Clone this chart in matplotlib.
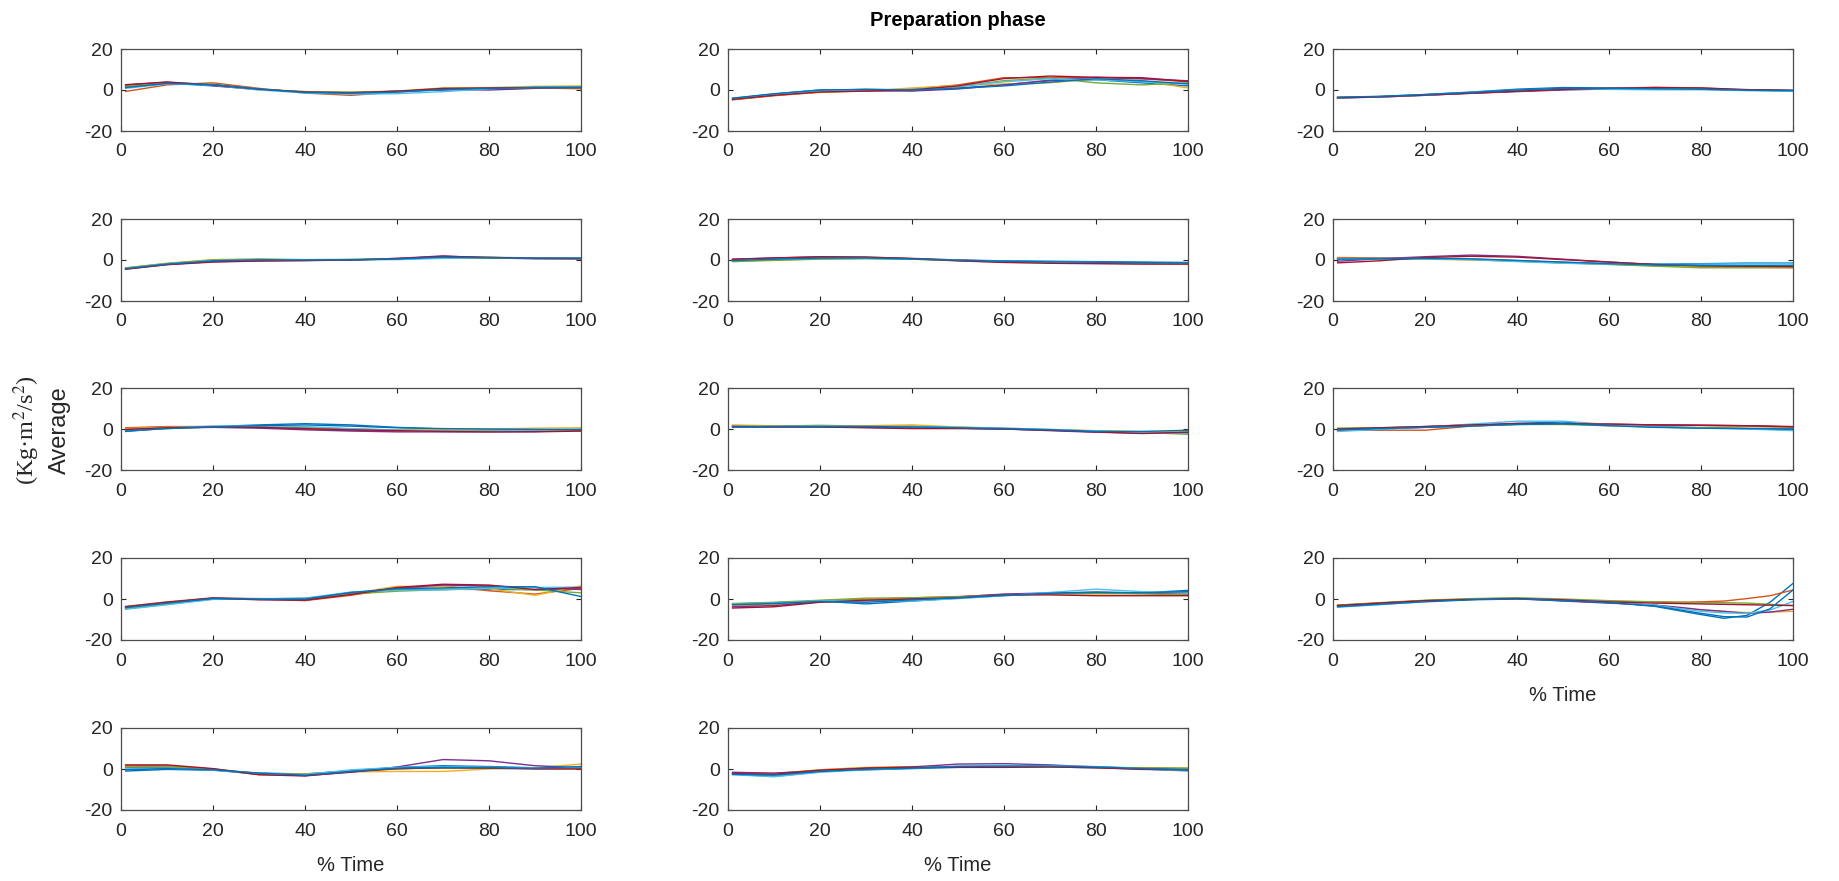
import matplotlib
matplotlib.use("Agg")
import matplotlib.pyplot as plt
import numpy as np

plt.rcParams["font.family"] = ["Liberation Sans", "DejaVu Sans"]
plt.rcParams["axes.unicode_minus"] = False

# sample instants (% of phase duration)
time_pct = [1, 10, 20, 30, 40, 50, 60, 70, 80, 90, 100]
time_pct_fine = [1, 10, 20, 30, 40, 50, 60, 70, 75, 80, 85, 90, 95, 100]

x_ticks = [0, 20, 40, 60, 80, 100]
y_ticks = [-20, 0, 20]

# MATLAB default line colour order
line_colors = ["#0072BD", "#D95319", "#EDB120", "#7E2F8E",
               "#77AC30", "#4DBEEE", "#A2142F", "#0072BD"]

seg_01 = [
    [1.5, 3.4, 2.0, 0.2, -0.8, -1.2, -0.6, 0.0, 0.8, 1.4, 1.5],
    [-0.7, 2.5, 3.5, 0.8, -1.5, -2.6, -1.0, 0.6, 0.3, 1.0, 0.6],
    [2.0, 3.6, 2.6, 0.5, -0.8, -1.0, -0.5, 1.0, 1.2, 1.8, 2.0],
    [2.4, 3.8, 2.2, 0.3, -1.0, -1.3, -0.6, 0.2, 0.0, 0.8, 1.0],
    [1.6, 3.5, 2.8, 0.4, -1.0, -1.2, -0.8, 0.4, 0.8, 1.2, 1.0],
    [0.8, 3.0, 2.4, 0.0, -1.4, -2.0, -1.8, -0.8, 0.6, 1.4, 1.4],
    [2.6, 3.9, 2.5, 0.4, -1.0, -1.4, -0.6, 0.8, 1.0, 1.2, 1.2],
    [1.2, 3.2, 2.6, 0.5, -1.2, -1.5, -1.0, 0.2, 0.8, 1.2, 1.3],
]
seg_02 = [
    [-4.3, -2.0, 0.0, 0.2, -0.3, 1.0, 2.5, 4.5, 5.0, 3.5, 2.0],
    [-4.8, -2.8, -1.0, -0.3, 0.5, 2.5, 6.0, 6.0, 6.0, 5.5, 4.0],
    [-4.5, -2.5, -1.2, -0.5, 1.0, 2.2, 3.0, 3.5, 5.5, 4.5, 1.0],
    [-4.2, -2.2, -0.5, -0.4, -0.5, 0.5, 2.5, 4.8, 6.2, 5.5, 4.5],
    [-4.0, -2.0, -0.3, 0.4, 0.0, 1.5, 4.6, 5.8, 3.5, 2.5, 3.5],
    [-4.4, -2.3, -0.5, 0.0, 0.2, 1.8, 4.0, 5.5, 5.0, 4.0, 3.0],
    [-4.6, -2.6, -1.0, -0.5, 0.0, 2.0, 5.6, 6.8, 6.2, 6.0, 4.2],
    [-4.0, -1.8, 0.0, 0.3, 0.0, 0.8, 2.0, 3.8, 5.5, 4.5, 3.0],
]
seg_03 = [
    [-3.6, -3.2, -2.2, -1.0, 0.4, 1.2, 1.0, 0.8, 0.6, 0.0, -0.2],
    [-3.8, -3.3, -2.5, -1.6, -0.6, 0.4, 0.9, 1.3, 1.0, 0.0, -0.3],
    [-3.6, -3.2, -2.4, -1.4, -0.5, 0.3, 0.6, 0.6, 0.4, -0.2, -0.5],
    [-3.9, -3.4, -2.6, -1.6, -0.8, 0.0, 0.5, 0.6, 0.4, 0.0, -0.3],
    [-3.7, -3.3, -2.4, -1.3, -0.4, 0.4, 0.6, 0.8, 0.5, 0.0, -0.4],
    [-3.8, -3.5, -2.6, -1.2, 0.0, 0.6, 0.3, 0.1, 0.1, -0.3, -0.6],
    [-3.8, -3.4, -2.5, -1.5, -0.6, 0.3, 0.8, 1.2, 1.0, 0.2, -0.2],
    [-3.5, -3.1, -2.2, -1.2, 0.0, 0.8, 0.8, 0.6, 0.4, -0.1, -0.3],
]
seg_04 = [
    [-4.0, -1.8, -0.2, 0.2, 0.0, 0.2, 0.4, 1.2, 1.0, 0.8, 0.8],
    [-4.2, -2.0, -0.4, 0.0, -0.2, 0.0, 0.8, 1.6, 1.2, 0.8, 0.6],
    [-3.8, -1.6, 0.2, 0.5, 0.0, 0.2, 0.6, 1.4, 1.4, 1.0, 1.0],
    [-4.4, -2.2, -0.8, -0.4, -0.2, 0.0, 0.8, 2.0, 1.0, 0.6, 0.6],
    [-3.9, -1.7, 0.0, 0.4, 0.2, 0.3, 0.6, 1.0, 1.0, 0.8, 0.7],
    [-4.1, -1.9, -0.3, 0.2, 0.0, 0.0, 0.2, 0.8, 1.2, 0.9, 0.9],
    [-4.5, -2.3, -1.0, -0.5, -0.3, 0.0, 0.6, 1.8, 1.3, 0.8, 0.7],
    [-4.2, -2.0, -0.4, 0.1, 0.0, 0.1, 0.5, 1.4, 1.1, 0.9, 0.9],
]
seg_05 = [
    [0.2, 0.6, 1.0, 1.0, 0.6, 0.0, -0.4, -0.6, -0.8, -1.0, -1.2],
    [0.0, 0.8, 1.3, 1.4, 0.8, 0.0, -0.8, -1.2, -1.4, -1.6, -1.8],
    [-0.6, 0.0, 0.6, 0.8, 0.4, -0.4, -1.0, -1.4, -1.6, -1.8, -2.0],
    [0.4, 1.0, 1.5, 1.2, 0.6, -0.2, -0.8, -1.2, -1.5, -1.6, -1.6],
    [-0.8, -0.2, 0.4, 0.6, 0.4, -0.2, -0.8, -1.2, -1.4, -1.5, -1.6],
    [0.0, 0.4, 0.8, 0.8, 0.4, -0.2, -0.6, -0.9, -1.2, -1.4, -1.5],
    [0.3, 1.0, 1.6, 1.4, 0.7, -0.4, -1.2, -1.6, -1.8, -2.0, -2.0],
    [-0.3, 0.4, 0.9, 1.0, 0.5, -0.1, -0.6, -0.9, -1.1, -1.3, -1.4],
]
seg_06 = [
    [0.8, 0.8, 0.6, 0.3, -0.4, -1.2, -1.8, -2.0, -1.8, -1.5, -1.5],
    [1.2, 1.0, 0.8, 0.4, -0.3, -1.2, -2.0, -2.8, -3.4, -3.6, -3.8],
    [0.8, 0.6, 0.4, 0.0, -0.6, -1.4, -2.0, -2.8, -3.2, -3.4, -3.4],
    [-0.6, 0.6, 1.6, 2.4, 1.8, 0.4, -1.0, -2.2, -2.8, -3.0, -3.2],
    [0.5, 0.6, 0.5, 0.2, -0.5, -1.4, -2.2, -3.0, -3.8, -3.8, -3.6],
    [0.6, 0.8, 0.6, 0.2, -0.8, -1.6, -2.0, -2.2, -2.0, -1.8, -1.8],
    [-1.4, -0.4, 1.2, 1.8, 1.4, 0.2, -1.0, -2.2, -2.8, -3.0, -3.2],
    [0.4, 0.6, 0.8, 0.6, -0.2, -1.0, -1.8, -2.4, -2.6, -2.6, -2.6],
]
seg_07 = [
    [-1.2, 0.4, 1.2, 2.0, 2.6, 2.0, 0.8, 0.0, -0.4, -0.6, -0.6],
    [0.6, 1.2, 1.2, 0.8, 0.0, -0.6, -0.8, -1.0, -0.8, -0.6, -0.6],
    [0.2, 0.8, 1.0, 0.8, 0.4, 0.0, -0.4, -0.4, 0.0, 0.4, 0.6],
    [-0.4, 0.4, 0.8, 0.4, -0.4, -1.0, -1.4, -1.4, -1.4, -1.2, -0.8],
    [-0.8, 0.2, 1.0, 1.0, 0.6, 0.0, -0.6, -0.8, -0.8, -0.6, -0.4],
    [-0.6, 0.6, 1.4, 1.6, 1.2, 0.2, -0.6, -1.0, -1.0, -0.6, -0.2],
    [-0.2, 0.6, 1.0, 0.8, 0.2, -0.4, -0.8, -1.2, -1.4, -1.4, -1.0],
    [-1.0, 0.2, 1.0, 1.6, 2.0, 1.4, 0.6, 0.2, 0.0, -0.2, -0.2],
]
seg_08 = [
    [1.2, 1.2, 1.0, 1.0, 0.8, 0.4, 0.0, -0.6, -1.2, -1.6, -1.2],
    [1.8, 1.6, 1.4, 1.2, 1.4, 0.8, 0.2, -0.4, -1.0, -1.4, -1.6],
    [1.6, 1.6, 1.4, 1.6, 2.0, 1.0, 0.4, -0.2, -0.8, -1.2, -1.4],
    [0.8, 1.0, 1.2, 0.8, 0.6, 0.4, 0.0, -0.8, -1.6, -2.0, -1.8],
    [1.4, 1.4, 1.8, 1.4, 1.0, 0.6, 0.2, -0.4, -1.0, -1.6, -2.6],
    [1.0, 1.2, 1.4, 1.2, 1.2, 0.8, 0.4, -0.2, -1.0, -1.8, -2.2],
    [1.2, 1.0, 1.0, 0.6, 0.2, 0.2, 0.0, -0.6, -1.4, -2.2, -1.6],
    [1.0, 1.2, 1.2, 1.2, 1.0, 0.6, 0.2, -0.4, -1.2, -1.2, -0.6],
]
seg_09 = [
    [-0.8, 0.0, 0.8, 1.6, 2.8, 3.4, 2.0, 1.2, 0.6, 0.2, -0.4],
    [-0.6, -0.6, -0.6, 1.4, 2.4, 2.6, 2.4, 2.0, 1.8, 1.6, 0.8],
    [0.2, 0.6, 1.0, 1.8, 2.2, 2.4, 2.2, 1.8, 1.6, 1.4, 0.6],
    [-0.4, 0.4, 1.2, 2.0, 2.4, 2.4, 2.2, 2.0, 1.8, 1.6, 1.0],
    [0.4, 0.6, 1.0, 1.6, 2.2, 2.2, 1.6, 1.0, 0.6, 0.4, 0.2],
    [-1.2, -0.2, 1.0, 2.4, 3.8, 3.8, 2.2, 1.0, 0.4, 0.0, -0.8],
    [0.0, 0.6, 1.2, 2.0, 2.6, 2.6, 2.4, 2.0, 1.8, 1.6, 1.2],
    [-0.4, 0.2, 0.8, 1.4, 2.2, 2.6, 1.6, 0.8, 0.4, 0.2, 0.0],
]
seg_10 = [
    [-4.4, -2.0, 0.4, 0.2, 0.2, 3.0, 4.6, 4.8, 4.6, 4.6, 5.0],
    [-3.6, -1.4, 0.6, 0.0, -0.8, 1.8, 5.2, 6.4, 4.0, 2.4, 5.2],
    [-4.6, -2.4, 0.0, 0.2, -0.4, 2.6, 6.2, 6.0, 5.0, 1.8, 6.4],
    [-4.0, -1.8, 0.4, -0.2, -0.2, 2.6, 5.4, 6.8, 6.4, 5.6, 4.6],
    [-4.8, -2.6, 0.0, 0.0, 0.4, 2.4, 3.8, 4.6, 5.4, 4.4, 3.0],
    [-5.0, -2.8, -0.2, 0.0, 0.4, 3.4, 4.4, 4.4, 5.2, 5.6, 5.8],
    [-3.8, -1.6, 0.4, -0.4, -0.6, 2.2, 5.6, 7.2, 6.8, 4.6, 5.6],
    [-4.2, -2.0, 0.2, 0.0, 0.0, 3.2, 5.0, 5.4, 6.0, 6.0, 1.2],
]
seg_11 = [
    [-2.4, -1.8, -1.0, -2.4, -1.0, 0.4, 1.6, 2.8, 3.4, 3.0, 4.2],
    [-3.0, -2.4, -0.8, -0.2, 0.6, 1.2, 2.2, 2.8, 3.0, 2.6, 2.4],
    [-3.4, -2.8, -1.2, -0.6, 0.4, 1.0, 2.0, 2.6, 2.4, 2.6, 2.8],
    [-3.8, -3.2, -1.4, -0.8, 0.0, 1.0, 2.4, 3.0, 3.2, 2.8, 2.2],
    [-2.2, -1.6, -0.6, 0.4, 0.6, 1.0, 1.8, 2.4, 2.8, 2.6, 2.0],
    [-2.6, -2.0, -1.0, -0.8, -1.0, 0.2, 1.6, 3.2, 4.8, 3.6, 3.0],
    [-4.4, -3.8, -1.6, -0.6, 0.0, 0.6, 2.0, 2.0, 1.6, 1.6, 1.6],
    [-2.8, -2.2, -1.2, -1.6, -0.4, 0.6, 1.8, 2.8, 3.2, 3.0, 3.6],
]
# sampled on time_pct_fine
seg_12 = [
    [-3.6, -2.4, -1.0, -0.2, 0.2, -0.6, -1.6, -3.6, -5.6, -7.6, -9.4, -8.0, -1.6, 7.6],
    [-3.0, -2.0, -0.8, 0.0, 0.4, -0.4, -1.2, -1.4, -1.6, -1.4, -1.0, 0.2, 1.6, 4.4],
    [-3.2, -2.2, -1.0, -0.2, 0.2, -0.8, -1.8, -3.0, -4.2, -5.4, -6.2, -6.6, -6.4, -6.0],
    [-3.4, -2.2, -1.0, -0.2, 0.2, -1.0, -2.0, -3.0, -4.0, -5.2, -6.0, -7.0, -6.4, -5.0],
    [-3.0, -1.8, -0.6, 0.2, 0.6, 0.0, -0.8, -1.4, -1.6, -1.8, -1.8, -2.0, -2.6, -3.2],
    [-4.0, -2.8, -1.2, -0.2, 0.2, -0.4, -1.4, -3.0, -4.6, -6.0, -6.8, -7.0, -5.4, -1.2],
    [-3.2, -2.0, -0.8, -0.2, 0.2, -0.4, -1.4, -2.0, -2.2, -2.4, -2.6, -2.8, -3.0, -3.2],
    [-3.8, -2.6, -1.4, -0.4, 0.0, -0.8, -1.8, -3.4, -5.2, -7.0, -8.6, -8.8, -4.8, 4.4],
]
seg_13 = [
    [-1.0, -0.2, -0.6, -2.0, -2.4, -0.8, 0.8, 1.6, 1.2, 0.6, 0.4],
    [1.6, 1.6, 0.0, -2.4, -2.8, -1.2, 0.0, 0.8, 0.8, 0.4, 0.8],
    [1.2, 1.2, -0.2, -2.8, -2.4, -1.4, -1.2, -1.2, 0.0, 0.6, 2.4],
    [0.6, 0.6, -0.4, -2.6, -3.2, -1.6, 1.0, 4.6, 4.0, 1.6, 0.6],
    [1.0, 1.2, 0.0, -2.2, -2.6, -1.0, 0.2, 0.4, 0.6, 0.2, 0.2],
    [0.2, 0.4, -0.6, -2.4, -2.8, -0.4, 0.8, 1.2, 0.8, 0.4, 1.0],
    [2.0, 2.0, 0.2, -2.8, -3.4, -1.4, 0.2, 0.6, 0.4, 0.0, 0.0],
    [-0.4, 0.2, -0.4, -2.0, -3.0, -1.2, 0.4, 0.8, 0.6, 0.4, 1.2],
]
seg_14 = [
    [-2.4, -2.8, -0.8, -0.4, 0.2, 0.8, 1.0, 1.0, 0.6, 0.0, -0.8],
    [-2.0, -2.4, -0.4, 0.6, 1.0, 1.2, 1.0, 1.2, 0.8, 0.4, 0.2],
    [-1.8, -2.2, -0.4, 0.8, 1.2, 1.0, 0.8, 1.0, 0.8, 0.6, 0.4],
    [-1.6, -2.0, -0.8, 0.4, 1.0, 2.4, 2.6, 2.0, 1.0, 0.4, 0.0],
    [-2.6, -3.6, -1.4, 0.0, 0.6, 1.2, 1.4, 1.2, 0.8, 0.6, 0.4],
    [-2.8, -3.8, -1.6, -0.4, 0.4, 1.4, 1.8, 1.6, 1.2, 0.0, -1.0],
    [-2.2, -2.6, -0.6, 0.4, 0.8, 0.8, 0.8, 1.0, 0.6, -0.2, -0.4],
    [-2.6, -3.0, -1.2, -0.2, 0.4, 1.2, 1.4, 1.4, 1.0, 0.2, -0.4],
]

panels = [
    (seg_01, time_pct), (seg_02, time_pct), (seg_03, time_pct),
    (seg_04, time_pct), (seg_05, time_pct), (seg_06, time_pct),
    (seg_07, time_pct), (seg_08, time_pct), (seg_09, time_pct),
    (seg_10, time_pct), (seg_11, time_pct), (seg_12, time_pct_fine),
    (seg_13, time_pct), (seg_14, time_pct),
]

W, H = 1840, 881
fig = plt.figure(figsize=(W / 100, H / 100), dpi=100)

col_left = [121, 728, 1333]
row_top = [49, 219, 388, 558, 728]
ax_w, ax_h = 460, 82
axis_gray = "#262626"

axes = []
for i, (series, t) in enumerate(panels):
    r, c = divmod(i, 3)
    ax = fig.add_axes([col_left[c] / W, 1 - (row_top[r] + ax_h) / H, ax_w / W, ax_h / H])
    for k, yv in enumerate(series):
        ax.plot(t, yv, color=line_colors[k % len(line_colors)], lw=1.0)
    ax.set_xlim(0, 100)
    ax.set_ylim(-20, 20)
    ax.set_xticks(x_ticks)
    ax.set_yticks(y_ticks)
    ax.tick_params(direction="in", length=3.5, width=0.8, top=True, right=True,
                   labelsize=14, colors=axis_gray)
    ax.tick_params(axis="x", pad=9)
    ax.tick_params(axis="y", pad=6)
    for sp in ax.spines.values():
        sp.set_color("#4d4d4d")
        sp.set_linewidth(0.9)
    axes.append(ax)

for idx in (11, 12, 13):
    axes[idx].set_xlabel("% Time", fontsize=14.5, color=axis_gray, labelpad=12)

fig.text((col_left[1] + ax_w / 2) / W, 1 - 21 / H, "Preparation phase",
         ha="center", va="center", fontsize=14.5, fontweight="bold", color="black")

y_mid = 1 - 430 / H
fig.text(27 / W, y_mid, "(Kg\u00b7m$^2$/s$^2$)", rotation=90, ha="center", va="center",
         fontsize=17.5, family=["Liberation Serif", "DejaVu Serif"], color=axis_gray,
         math_fontfamily="stix")
fig.text(60 / W, y_mid, "Average", rotation=90, ha="center", va="center",
         fontsize=17, color=axis_gray)

fig.savefig("out.png", dpi=100, facecolor="white")
